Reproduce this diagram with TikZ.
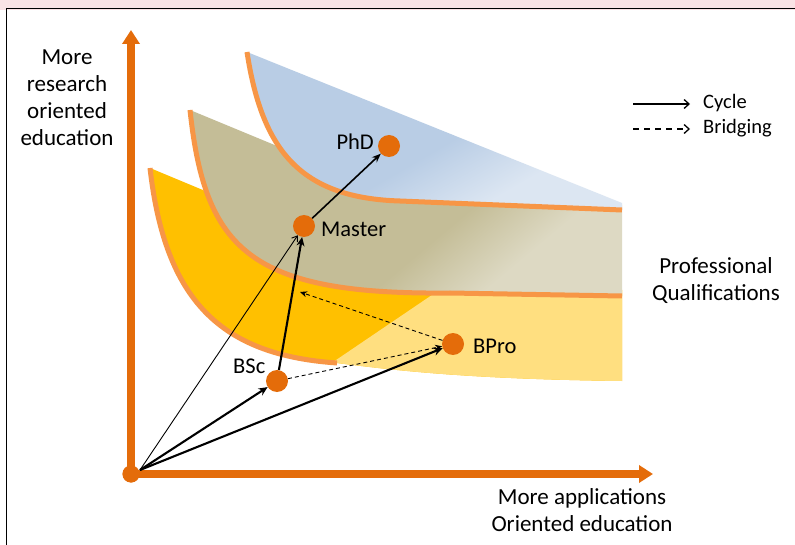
\documentclass[tikz,border=0pt]{standalone}
\usepackage{fontspec}
\setmainfont{Carlito}
\usetikzlibrary{arrows.meta}
\definecolor{axisor}{HTML}{E46C0A}
\definecolor{edgeor}{HTML}{F79646}
\definecolor{blueD}{HTML}{B9CDE5}
\definecolor{blueL}{HTML}{DCE6F2}
\definecolor{beigeD}{HTML}{C4BD97}
\definecolor{beigeL}{HTML}{DDD9C3}
\definecolor{yelD}{HTML}{FFC000}
\definecolor{yelL}{HTML}{FFDF80}
\definecolor{pinkbar}{HTML}{FAE3E5}
\pgfdeclarehorizontalshading{blueband}{100bp}{color(0bp)=(blueD); color(47bp)=(blueD); color(53bp)=(blueL); color(100bp)=(blueL)}
\pgfdeclarehorizontalshading{beigeband}{100bp}{color(0bp)=(beigeD); color(47bp)=(beigeD); color(53bp)=(beigeL); color(100bp)=(beigeL)}
\tikzset{
  edgeline/.style={draw=edgeor, line width=5pt},
  axisline/.style={draw=axisor, line width=8pt, -{Triangle[length=14pt,width=17pt]}},
  dotnode/.style={circle, fill=axisor, minimum size=22pt, inner sep=0pt},
  origdot/.style={circle, fill=axisor, minimum size=17pt, inner sep=0pt},
  thickarr/.style={draw=black, line width=2.1pt, -{Stealth[length=9pt,width=8pt]}},
  medarr/.style={draw=black, line width=1.6pt, -{Stealth[length=9pt,width=7pt]}},
  thinarr/.style={draw=black, line width=0.9pt, -{Straight Barb[length=5pt,width=7pt]}},
  dasharr/.style={draw=black, line width=0.9pt, dash pattern=on 4pt off 3pt, -{Stealth[length=7pt,width=6pt]}},
  legsolid/.style={draw=black, line width=1.3pt, -{Straight Barb[length=5pt,width=9pt]}},
  legdash/.style={draw=black, line width=1.3pt, dash pattern=on 6pt off 5pt, -{Straight Barb[length=5pt,width=9pt]}},
  ptlbl/.style={inner sep=0pt, font=\fontsize{22.5}{26}\selectfont},
  axlbl/.style={inner sep=0pt, align=center, font=\fontsize{23}{27}\selectfont},
  leglbl/.style={inner sep=0pt, font=\fontsize{20.5}{24}\selectfont},
}
\begin{document}
\begin{tikzpicture}[x=1pt, y=-1pt]
\useasboundingbox (0,0) rectangle (795,545);
\fill[white] (0,0) rectangle (795,545);
% frame
\fill[pinkbar] (0,0) rectangle (795,10.5);
\draw[line width=1.5pt] (6.5,545) -- (6.5,8.5) -- (795,8.5);

% ---- yellow band (BSc)
\begin{scope}
  \clip (150,168) -- (210,193) -- (622,290) -- (622,381) .. controls (470,379) and (400,371) .. (337,363) .. controls (220,355) and (165,300) .. (150,168) -- cycle;
  \fill[yelD] (140,160) rectangle (640,400);
  \fill[yelL] (283,396) -- (575,198) -- (640,198) -- (640,400) -- cycle;
\end{scope}
\draw[edgeline] (150,168) .. controls (165,300) and (220,355) .. (337,363);

% ---- beige band (Master)
\begin{scope}
  \clip (190,110) -- (277,146) -- (622,205) -- (622,296) -- (450,293) .. controls (250,295) and (205,250) .. (190,110) -- cycle;
  \begin{scope}[transform canvas={rotate around={-50:(480,248)}}]
    \shade[shading=beigeband] (180,-52) rectangle (780,548);
  \end{scope}
\end{scope}
\draw[edgeline] (190,110) .. controls (205,250) and (250,295) .. (450,293) -- (622,296);

% ---- blue band (PhD)
\begin{scope}
  \clip (247,52) -- (622,203) -- (622,210) -- (400,201) .. controls (300,198) and (262,150) .. (247,52) -- cycle;
  \begin{scope}[transform canvas={rotate around={-60:(455,180)}}]
    \shade[shading=blueband] (155,-120) rectangle (755,480);
  \end{scope}
\end{scope}
\draw[edgeline] (247,52) .. controls (262,150) and (300,198) .. (400,201) -- (622,210);

% ---- axes
\node[origdot] (orig) at (131,474) {};
\coordinate (ytip) at (131,30);
\coordinate (xtip) at (653,474);
\draw[axisline] (orig.center) -- (ytip);
\draw[axisline] (orig.center) -- (xtip);
\node[origdot] (orig2) at (131,474) {};

% ---- points
\node[dotnode] (phd) at (389,146) {};
\node[dotnode] (master) at (304,226) {};
\node[dotnode] (bsc) at (277,381) {};
\node[dotnode] (bpro) at (453,344) {};
\coordinate (o) at (140,470);
\coordinate (mid) at (300,292);

% ---- connectors
\draw[thinarr] (o) -- (master);
\draw[thickarr] (o) -- (bsc);
\draw[thickarr] (o) -- (bpro);
\draw[thickarr] (bsc) -- (master);
\draw[medarr] (master) -- (phd);
\draw[dasharr] (bsc) -- (bpro);
\draw[dasharr] (bpro) -- (mid);

% ---- labels
\node[ptlbl, anchor=base east] (phdl) at (374,150) {PhD};
\node[ptlbl, anchor=base west] (masterl) at (321,237) {Master};
\node[ptlbl, anchor=base west] (bscl) at (233,373) {BSc};
\node[ptlbl, anchor=base west] (bprol) at (473,353) {BPro};

\node[axlbl, anchor=north] (ylab) at (67,50) {More\\research\\oriented\\education};
\node[axlbl, anchor=north] (xlab) at (582,488) {More applications\\Oriented education};
\node[axlbl, anchor=north] (prof) at (716,257) {Professional\\Qualifications};

% ---- legend
\coordinate (l1a) at (633,104);
\coordinate (l1b) at (690,104);
\coordinate (l2a) at (633,129);
\coordinate (l2b) at (690,129);
\draw[legsolid] (l1a) -- (l1b);
\draw[legdash] (l2a) -- (l2b);
\node[leglbl, anchor=base west] (cyc) at (703,109) {Cycle};
\node[leglbl, anchor=base west] (brg) at (703,134) {Bridging};
\end{tikzpicture}
\end{document}
